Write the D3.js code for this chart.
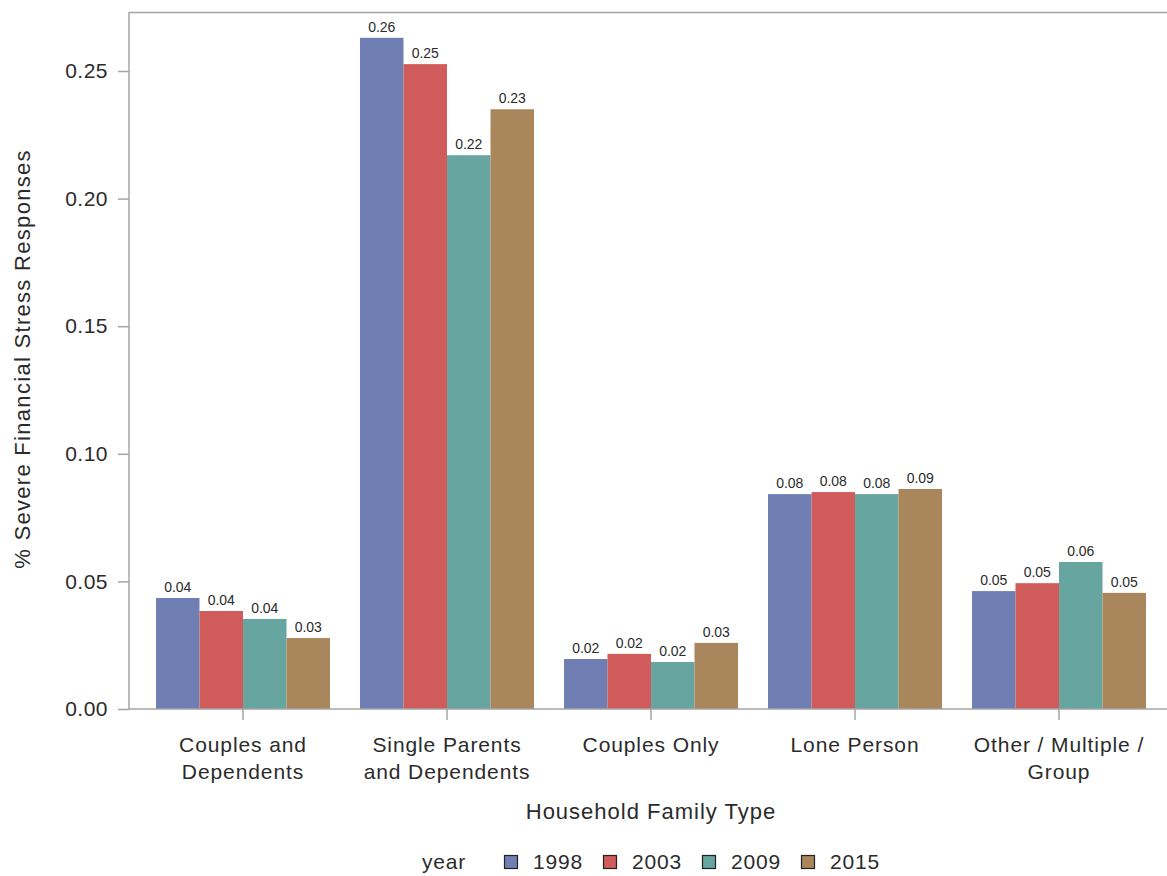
<!DOCTYPE html>
<html><head><meta charset="utf-8">
<script src="https://cdn.jsdelivr.net/npm/d3@7"></script>
<style>body{margin:0;background:#fff}svg{display:block;font-family:"Liberation Sans",Arial,sans-serif}</style>
</head><body>
<svg id="c" width="1167" height="876"></svg>
<script>
const categories = [["Couples and","Dependents"],["Single Parents","and Dependents"],["Couples Only"],["Lone Person"],["Other / Multiple /","Group"]];
const years = ["1998","2003","2009","2015"];
const colors = ["#6F7EB3","#D05B5B","#66A5A0","#A9865B"];
const v1998 = [0.0435,0.2630,0.0196,0.0842,0.0462];
const v2003 = [0.0384,0.2527,0.0216,0.0850,0.0493];
const v2009 = [0.0353,0.2170,0.0184,0.0842,0.0576];
const v2015 = [0.0278,0.2350,0.0259,0.0862,0.0455];
const labels1998 = ["0.04","0.26","0.02","0.08","0.05"];
const labels2003 = ["0.04","0.25","0.02","0.08","0.05"];
const labels2009 = ["0.04","0.22","0.02","0.08","0.06"];
const labels2015 = ["0.03","0.23","0.03","0.09","0.05"];
const yTicks = [0,0.05,0.10,0.15,0.20,0.25];

const series = [v1998,v2003,v2009,v2015];
const labelSets = [labels1998,labels2003,labels2009,labels2015];
const svg = d3.select("#c");
const L=129, T=12, B=709;
const txt="#2b2b2b";
const x = d3.scaleBand().domain(d3.range(categories.length)).range([141,1161]).paddingInner(30/204).paddingOuter(15/204);
const x1 = d3.scaleBand().domain(years).range([0,x.bandwidth()]);
const y = d3.scaleLinear().domain([0,0.25]).range([B,71]);
const axisCol="#a5a5a5";

// frame
svg.append("line").attr("x1",L).attr("x2",1167).attr("y1",T+0.5).attr("y2",T+0.5).attr("stroke",axisCol).attr("stroke-width",1.5);

// bars
const data=[];
series.forEach((s,si)=>s.forEach((v,ci)=>data.push({ci,si,v,lab:labelSets[si][ci]})));
const g=svg.append("g");
g.selectAll("rect").data(data).join("rect")
 .attr("x",d=>x(d.ci)+x1(years[d.si])).attr("width",x1.bandwidth())
 .attr("y",d=>y(d.v)).attr("height",d=>B-y(d.v)).attr("fill",d=>colors[d.si]);
g.selectAll("text").data(data).join("text")
 .attr("x",d=>x(d.ci)+x1(years[d.si])+x1.bandwidth()/2).attr("y",d=>y(d.v)-6)
 .attr("text-anchor","middle").attr("font-size",14).attr("fill",txt).text(d=>d.lab);

// y axis
const ya=svg.append("g").attr("transform",`translate(${L},0)`).call(d3.axisLeft(y).tickValues(yTicks).tickFormat(d3.format(".2f")).tickSize(11).tickPadding(10));
ya.select(".domain").attr("stroke",axisCol).attr("stroke-width",1.5).attr("d",`M0,${T}V${B}`);
ya.selectAll(".tick line").attr("stroke",axisCol).attr("stroke-width",1.5);
ya.selectAll(".tick text").attr("font-size",21).attr("letter-spacing",0.5).attr("fill",txt).attr("font-family","'Liberation Sans',Arial,sans-serif");

// x axis
const xa=svg.append("g").attr("transform",`translate(0,${B})`).call(d3.axisBottom(x).tickSize(11).tickFormat(""));
xa.select(".domain").attr("stroke",axisCol).attr("stroke-width",1.5).attr("d",`M${L},0H1167`);
xa.selectAll(".tick line").attr("stroke",axisCol).attr("stroke-width",1.5);
categories.forEach((lines,ci)=>{
  const cx=x(ci)+x.bandwidth()/2;
  const t=svg.append("text").attr("text-anchor","middle").attr("font-size",21).attr("letter-spacing",0.9).attr("fill",txt);
  lines.forEach((ln,i)=>t.append("tspan").attr("x",cx).attr("y",752+i*27).text(ln));
});

// titles
svg.append("text").attr("x",651).attr("y",819).attr("text-anchor","middle").attr("font-size",22).attr("letter-spacing",1).attr("fill",txt).text("Household Family Type");
svg.append("text").attr("transform","translate(30,359) rotate(-90)").attr("text-anchor","middle").attr("font-size",22).attr("letter-spacing",1.3).attr("fill",txt).text("% Severe Financial Stress Responses");

// legend
svg.append("text").attr("x",422).attr("y",869).attr("font-size",21).attr("letter-spacing",0.8).attr("fill",txt).text("year");
years.forEach((yr,i)=>{
  const x0=504+i*99;
  svg.append("rect").attr("x",x0+0.5).attr("y",855.5).attr("width",13).attr("height",13).attr("fill",colors[i]).attr("stroke","#222").attr("stroke-width",1.2);
  svg.append("text").attr("x",x0+29).attr("y",869).attr("font-size",21).attr("letter-spacing",0.8).attr("fill",txt).text(yr);
});
</script>
</body></html>
